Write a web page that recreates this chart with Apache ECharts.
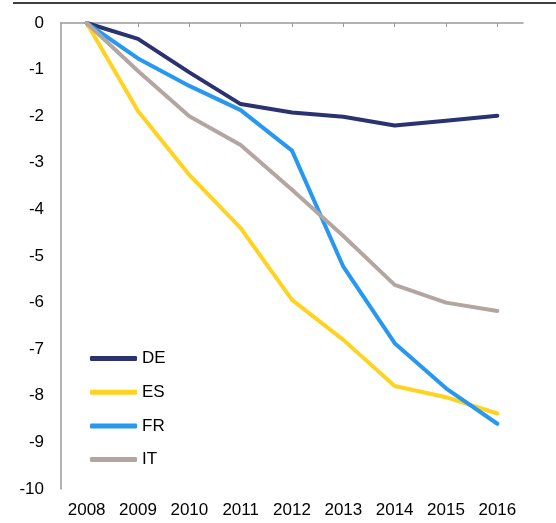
<!DOCTYPE html>
<html>
<head>
<meta charset="utf-8">
<script src="https://cdn.jsdelivr.net/npm/echarts@6/dist/echarts.min.js"></script>
<style>
  html, body { margin: 0; padding: 0; background: #fff; }
  #main { width: 556px; height: 523px; }
</style>
</head>
<body>
<div id="main"></div>
<script>
// years on the x axis
const years = ['2008', '2009', '2010', '2011', '2012', '2013', '2014', '2015', '2016'];
// change since 2008
const de = [0, -0.34, -1.06, -1.74, -1.92, -2.01, -2.2, -2.1, -1.99];
const es = [0, -1.89, -3.26, -4.4, -5.94, -6.8, -7.79, -8.03, -8.38];
const fr = [0, -0.76, -1.35, -1.87, -2.74, -5.23, -6.87, -7.84, -8.6];
const it = [0, -1.03, -2.0, -2.62, -3.58, -4.57, -5.62, -6.0, -6.18];

const chart = echarts.init(document.getElementById('main'));

function line(name, data, color) {
  return {
    name: name,
    type: 'line',
    data: data,
    symbol: 'none',
    xAxisIndex: 0,
    lineStyle: { color: color, width: 4, cap: 'round', join: 'round' },
    itemStyle: { color: color }
  };
}

const option = {
  animation: false,
  textStyle: { fontFamily: 'Liberation Sans, Arial, sans-serif' },
  grid: { left: 61, right: 33, top: 23, bottom: 34 },
  graphic: [{
    type: 'line',
    shape: { x1: 13, y1: 3, x2: 556, y2: 3 },
    style: { stroke: '#000', lineWidth: 1.5 }
  }],
  legend: {
    orient: 'vertical',
    left: 85,
    top: 345,
    icon: 'roundRect',
    itemWidth: 47,
    itemHeight: 5,
    itemGap: 16.7,
    textStyle: { fontSize: 17, lineHeight: 17, color: '#000' },
    data: ['DE', 'ES', 'FR', 'IT']
  },
  xAxis: [{
    type: 'category',
    data: years,
    position: 'bottom',
    boundaryGap: true,
    axisLine: { show: false },
    axisTick: { show: false },
    axisLabel: { fontSize: 17, color: '#000', margin: 13 }
  }, {
    type: 'category',
    data: years,
    position: 'top',
    boundaryGap: true,
    axisLine: { show: true, onZero: false, lineStyle: { color: '#999', width: 1.5 } },
    axisTick: { show: true, inside: true, length: 4, alignWithLabel: true, lineStyle: { color: '#999' } },
    axisLabel: { show: false }
  }],
  yAxis: {
    type: 'value',
    min: -10,
    max: 0,
    interval: 1,
    axisLine: { show: true, onZero: false, lineStyle: { color: '#999', width: 1.5 } },
    axisTick: { show: false },
    splitLine: { show: false },
    axisLabel: { fontSize: 17, color: '#000', margin: 17 }
  },
  series: [
    line('DE', de, '#2b3270'),
    line('ES', es, '#ffd320'),
    line('FR', fr, '#2797f0'),
    line('IT', it, '#b3a6a0')
  ]
};

chart.setOption(option);
</script>
</body>
</html>
